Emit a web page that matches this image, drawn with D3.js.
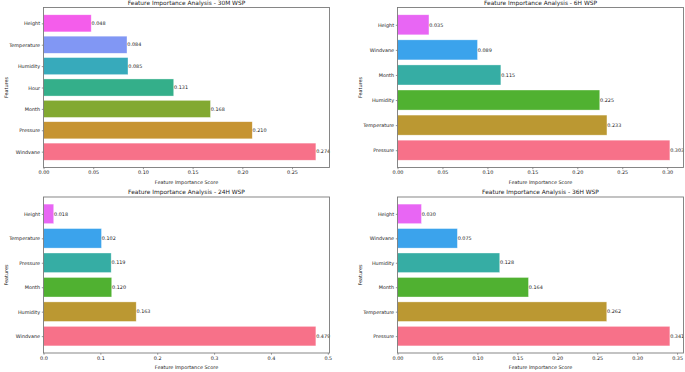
<!DOCTYPE html>
<html>
<head>
<meta charset="utf-8">
<script src="https://cdn.jsdelivr.net/npm/d3@7"></script>
<style>
  body { margin: 0; background: #fff; }
  svg { display: block; font-family: "DejaVu Sans", sans-serif; }
</style>
</head>
<body>
<svg id="chart" width="685" height="372"></svg>
<script>
// ── Data ─────────────────────────────────────────────────────────
// listed bottom → top, as plt.barh draws them
const features30M = ['Windvane', 'Pressure', 'Month', 'Hour', 'Humidity', 'Temperature', 'Height'];
const values30M   = [0.274, 0.210, 0.168, 0.131, 0.085, 0.084, 0.048];
const ticks30M    = [0, 0.05, 0.10, 0.15, 0.20, 0.25];

const features6H = ['Pressure', 'Temperature', 'Humidity', 'Month', 'Windvane', 'Height'];
const values6H   = [0.303, 0.233, 0.225, 0.115, 0.089, 0.035];
const ticks6H    = [0, 0.05, 0.10, 0.15, 0.20, 0.25, 0.30];

const features24H = ['Windvane', 'Humidity', 'Month', 'Pressure', 'Temperature', 'Height'];
const values24H   = [0.479, 0.163, 0.120, 0.119, 0.102, 0.018];
const ticks24H    = [0, 0.1, 0.2, 0.3, 0.4, 0.5];

const features36H = ['Pressure', 'Temperature', 'Month', 'Humidity', 'Windvane', 'Height'];
const values36H   = [0.341, 0.262, 0.164, 0.128, 0.075, 0.030];
const ticks36H    = [0, 0.05, 0.10, 0.15, 0.20, 0.25, 0.30, 0.35];

// seaborn husl palettes
const husl7 = ['#f77189', '#c69432', '#82a931', '#34af8a', '#37aabb', '#8197f4', '#f45deb'];
const husl6 = ['#f77189', '#bb9832', '#50b131', '#36ada4', '#3ba3ec', '#e866f4'];

// ── Layout ───────────────────────────────────────────────────────
const COLS = [[43.5, 329.5], [397.5, 683.5]];
const ROWS = [[7.5, 167.5], [197, 353]];
const FS_TICK  = 4.9;
const FS_TITLE = 5.9;
const TICK = 1.7, PAD = 1.7;
const TXT = '#1a1a1a';
const SPINE = '#7a7a7a';

const panels = [
  { title: 'Feature Importance Analysis - 30M WSP', feats: features30M, vals: values30M, ticks: ticks30M, fmt: d3.format('.2f'), colors: husl7, col: 0, row: 0 },
  { title: 'Feature Importance Analysis - 6H WSP',  feats: features6H,  vals: values6H,  ticks: ticks6H,  fmt: d3.format('.2f'), colors: husl6, col: 1, row: 0 },
  { title: 'Feature Importance Analysis - 24H WSP', feats: features24H, vals: values24H, ticks: ticks24H, fmt: d3.format('.1f'), colors: husl6, col: 0, row: 1 },
  { title: 'Feature Importance Analysis - 36H WSP', feats: features36H, vals: values36H, ticks: ticks36H, fmt: d3.format('.2f'), colors: husl6, col: 1, row: 1 },
];

const svg = d3.select('#chart');
svg.append('rect').attr('width', 685).attr('height', 372).attr('fill', '#fff');

function drawPanel(p) {
  const [x0, x1] = COLS[p.col];
  const [y0, y1] = ROWS[p.row];
  const n = p.feats.length;

  // matplotlib-style limits: sticky at 0, 5% margin on the right
  const x = d3.scaleLinear()
    .domain([0, d3.max(p.vals) * 1.05])
    .range([x0, x1]);

  // barh: index 0 at the bottom, 5% margins around the bars (height 0.8)
  const span = (n - 1) + 0.8;
  const y = d3.scaleLinear()
    .domain([-0.4 - 0.05 * span, n - 1 + 0.4 + 0.05 * span])
    .range([y1, y0]);
  const bh = y(0) - y(0.8);

  const g = svg.append('g');

  // bars
  g.selectAll('rect.bar')
    .data(p.vals)
    .join('rect')
    .attr('class', 'bar')
    .attr('x', x(0))
    .attr('y', (d, i) => y(i + 0.4))
    .attr('width', d => x(d) - x(0))
    .attr('height', bh)
    .attr('fill', (d, i) => p.colors[i])
    .attr('stroke', '#fff')
    .attr('stroke-opacity', 0.6)
    .attr('stroke-width', 0.6);

  // value labels
  g.selectAll('text.val')
    .data(p.vals)
    .join('text')
    .attr('class', 'val')
    .attr('x', d => x(d) + 0.3)
    .attr('y', (d, i) => y(i))
    .attr('dy', '0.35em')
    .attr('font-size', FS_TICK)
    .attr('fill', TXT)
    .text(d => d.toFixed(3));

  // spines
  g.append('rect')
    .attr('x', x0).attr('y', y0)
    .attr('width', x1 - x0).attr('height', y1 - y0)
    .attr('fill', 'none')
    .attr('stroke', SPINE)
    .attr('stroke-width', 0.9);

  // x axis
  const xAxis = d3.axisBottom(x)
    .tickValues(p.ticks)
    .tickFormat(p.fmt)
    .tickSize(TICK)
    .tickPadding(PAD);
  const gx = g.append('g').attr('transform', `translate(0,${y1})`).call(xAxis);
  gx.select('.domain').remove();
  gx.selectAll('line').attr('stroke', SPINE).attr('stroke-width', 0.8);
  gx.selectAll('text').attr('font-size', FS_TICK).attr('fill', TXT)
    .attr('font-family', '"DejaVu Sans", sans-serif');

  // y axis
  const yAxis = d3.axisLeft(y)
    .tickValues(d3.range(n))
    .tickFormat(i => p.feats[i])
    .tickSize(TICK)
    .tickPadding(PAD);
  const gy = g.append('g').attr('transform', `translate(${x0},0)`).call(yAxis);
  gy.select('.domain').remove();
  gy.selectAll('line').attr('stroke', SPINE).attr('stroke-width', 0.8);
  gy.selectAll('text').attr('font-size', FS_TICK).attr('fill', TXT)
    .attr('font-family', '"DejaVu Sans", sans-serif');

  // title
  g.append('text')
    .attr('x', (x0 + x1) / 2)
    .attr('y', y0 - 2.9)
    .attr('text-anchor', 'middle')
    .attr('font-size', FS_TITLE)
    .attr('fill', TXT)
    .text(p.title);

  // axis labels
  g.append('text')
    .attr('x', (x0 + x1) / 2)
    .attr('y', y1 + 16)
    .attr('text-anchor', 'middle')
    .attr('font-size', FS_TICK)
    .attr('fill', TXT)
    .text('Feature Importance Score');

  const lx = x0 - 36;
  g.append('text')
    .attr('transform', `translate(${lx},${(y0 + y1) / 2}) rotate(-90)`)
    .attr('text-anchor', 'middle')
    .attr('font-size', FS_TICK)
    .attr('fill', TXT)
    .text('Features');
}

panels.forEach(drawPanel);
</script>
</body>
</html>
